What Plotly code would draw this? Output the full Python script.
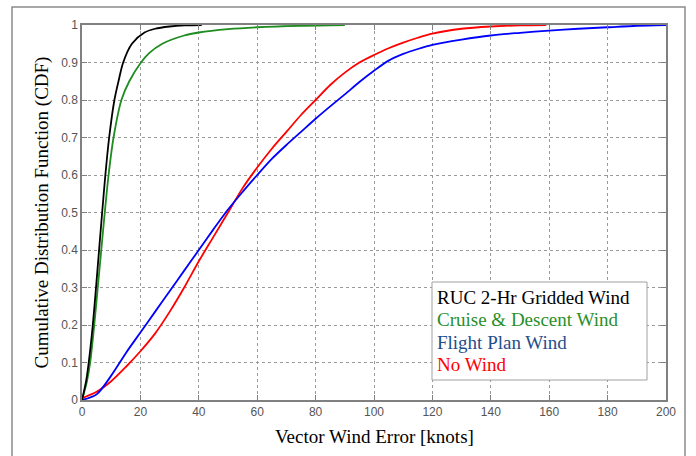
import plotly.graph_objects as go

# ---- data ----
ruc_x = [0, 1.4, 2.3, 3.7, 4.8, 5.85, 6.9, 8.0, 9.3, 11.1, 12.5, 14.1, 17.1, 21.4, 25, 30, 35, 41]
ruc_y = [0, 0.05, 0.1, 0.2, 0.3, 0.4, 0.5, 0.6, 0.7, 0.8, 0.85, 0.9, 0.95, 0.98, 0.99, 0.996, 0.999, 1.0]

cruise_x = [0, 1.7, 2.8, 4.2, 5.4, 6.6, 7.8, 9.1, 10.8, 13.5, 16.2, 20.2, 23, 27.5, 35, 40, 50, 60, 75, 90]
cruise_y = [0, 0.05, 0.1, 0.2, 0.3, 0.4, 0.5, 0.6, 0.7, 0.8, 0.85, 0.9, 0.925, 0.95, 0.972, 0.98,
            0.989, 0.994, 0.998, 1.0]

flight_x = [0, 5, 10, 15, 20, 25, 30, 35, 40, 45, 50, 55, 60, 65, 70, 75, 80, 85, 90, 95, 100,
            105, 110, 115, 120, 130, 140, 150, 160, 170, 180, 190, 200]
flight_y = [0, 0.015, 0.065, 0.125, 0.18, 0.235, 0.29, 0.345, 0.4, 0.455, 0.508, 0.555, 0.6, 0.643,
            0.68, 0.715, 0.75, 0.783, 0.815, 0.848, 0.878, 0.905, 0.923, 0.936, 0.947, 0.961, 0.972,
            0.979, 0.985, 0.99, 0.994, 0.998, 1.0]

nowind_x = [0, 5, 10, 15, 20, 25, 30, 35, 40, 45, 50, 55, 60, 65, 70, 75, 80, 85, 90, 95, 100,
            105, 110, 115, 120, 130, 140, 150, 159]
nowind_y = [0.005, 0.022, 0.05, 0.088, 0.13, 0.177, 0.235, 0.3, 0.37, 0.435, 0.5, 0.565, 0.62, 0.67,
            0.715, 0.76, 0.8, 0.84, 0.873, 0.9, 0.92, 0.938, 0.953, 0.966, 0.977, 0.99, 0.996, 0.999, 1.0]

names = ["RUC 2-Hr Gridded Wind", "Cruise & Descent Wind", "Flight Plan Wind", "No Wind"]
line_colors = ["#000000", "#1e8c1e", "#0000ff", "#ff0000"]
text_colors = ["#000000", "#2a8f2a", "#1f4e8c", "#ff0000"]

x_ticks = list(range(0, 201, 20))
y_ticks = [i / 10 for i in range(11)]
y_tick_text = ["0", "0.1", "0.2", "0.3", "0.4", "0.5", "0.6", "0.7", "0.8", "0.9", "1"]

fig = go.Figure()
series = [(ruc_x, ruc_y), (cruise_x, cruise_y), (flight_x, flight_y), (nowind_x, nowind_y)]
for idx in [3, 2, 1, 0]:
    xs, ys = series[idx]
    fig.add_trace(go.Scatter(x=xs, y=ys, mode="lines", name=names[idx],
                             line=dict(color=line_colors[idx], width=1.8, shape="spline", smoothing=0.8),
                             showlegend=False, hoverinfo="skip"))

axis_common = dict(showline=True, linecolor="#808080", linewidth=1.5, mirror="ticks",
                   ticks="inside", ticklen=5, tickcolor="#808080", tickwidth=1,
                   showgrid=True, gridcolor="#9a9a9a", griddash="dot", gridwidth=1,
                   zeroline=False,
                   tickfont=dict(family="Liberation Sans, Arial", size=12, color="#555555"))

fig.update_xaxes(range=[0, 200], tickvals=x_ticks, **axis_common)
fig.update_yaxes(range=[0, 1], tickvals=y_ticks, ticktext=y_tick_text, **axis_common)

W, H = 696, 456
L, R, T, B = 82, 30, 25, 56
pw, ph = W - L - R, H - T - B

def px_x(p):
    return (p - L) / pw

def px_y(p):
    return (H - B - p) / ph

shapes = [
    dict(type="rect", xref="paper", yref="paper", x0=px_x(12), x1=px_x(685), y0=px_y(475), y1=px_y(7),
         line=dict(color="#8c8c8c", width=1.5), layer="below"),
    dict(type="rect", xref="paper", yref="paper", x0=px_x(432), x1=px_x(647), y0=px_y(380), y1=px_y(282),
         line=dict(color="#a0a0a0", width=1), fillcolor="white", layer="above"),
]

annotations = [
    dict(text="Vector Wind Error [knots]", xref="paper", yref="paper", x=0.5, y=0,
         xanchor="center", yanchor="middle", yshift=-36, showarrow=False,
         font=dict(family="Liberation Serif, Times New Roman", size=19, color="#000000")),
    dict(text="Cumulative Distribution Function (CDF)", xref="paper", yref="paper", x=0, y=0.5,
         xanchor="center", yanchor="middle", xshift=-41, textangle=-90, showarrow=False,
         font=dict(family="Liberation Serif, Times New Roman", size=19, color="#000000")),
]
legend_centers = [297, 319.5, 342, 364.5]
for name, col, cy in zip(names, text_colors, legend_centers):
    annotations.append(dict(text=name, xref="paper", yref="paper", x=px_x(436), y=px_y(cy),
                            xanchor="left", yanchor="middle", showarrow=False, borderpad=0,
                            font=dict(family="Liberation Serif, Times New Roman", size=19, color=col)))

fig.update_layout(width=W, height=H, margin=dict(l=L, r=R, t=T, b=B),
                  paper_bgcolor="white", plot_bgcolor="white", hovermode=False,
                  shapes=shapes, annotations=annotations, showlegend=False)

fig.write_html("out.html", config={"displayModeBar": False},
               post_script="document.body.style.margin='0';document.body.style.padding='0';")
